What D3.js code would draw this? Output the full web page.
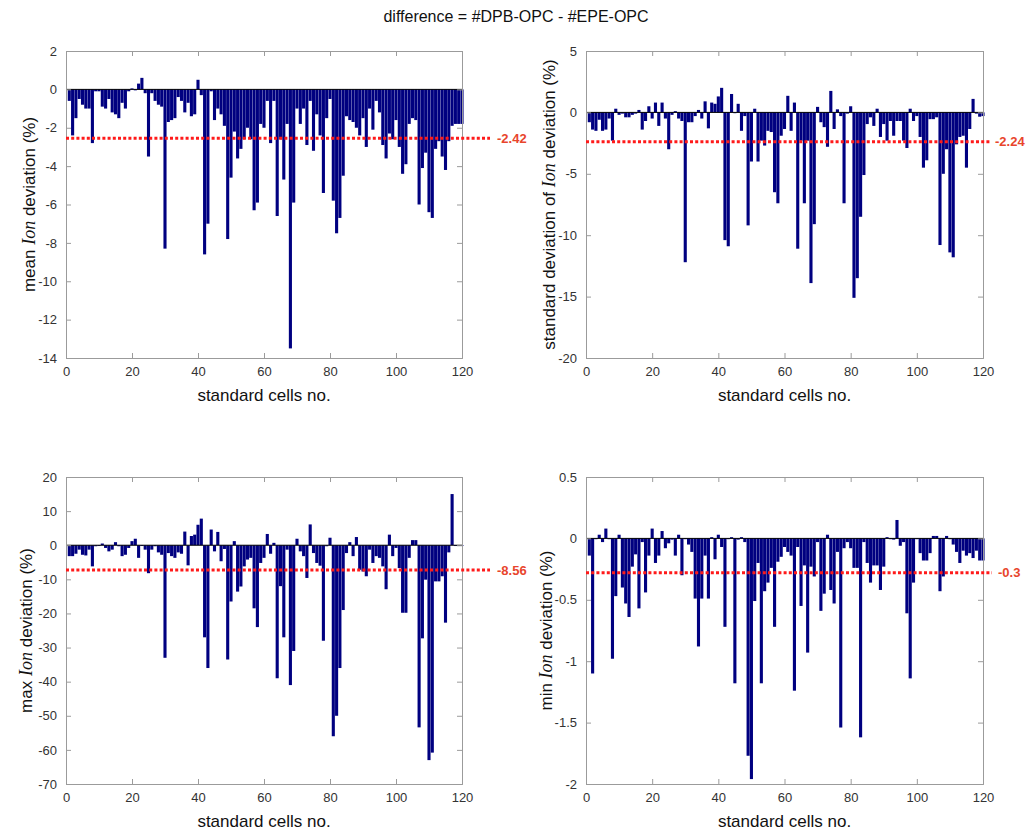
<!DOCTYPE html>
<html>
<head>
<meta charset="utf-8">
<script src="https://cdn.jsdelivr.net/npm/d3@7"></script>
<style>
  html, body { margin: 0; padding: 0; background: #fff; }
  svg { display: block; }
</style>
</head>
<body>
<svg id="chart" width="1031" height="833"></svg>
<script>
// ---------------- DATA ----------------
const chartTitle = "difference = #DPB-OPC - #EPE-OPC";
const xTicks = [0, 20, 40, 60, 80, 100, 120];

const meanValues = [
  -0.6,-2.4,-1.5,-0.5,-0.8,-1.0,-1.0,-2.8,-0.1,-0.1,
  -0.9,-1.0,-0.5,-1.2,-1.3,-1.5,-0.7,-1.0,-0.1,0.05,
  -0.05,0.3,0.6,-0.2,-3.5,-0.2,-0.6,-0.8,-0.9,-8.3,
  -1.7,-1.6,-1.5,-0.4,-0.6,-1.2,-0.7,-1.4,-1.3,0.5,
  -0.3,-8.6,-7.0,-0.1,-1.6,-1.0,-1.3,-1.9,-7.8,-4.6,
  -2.2,-3.6,-3.1,-2.6,-2.0,-2.6,-6.3,-5.9,-1.8,-2.0,
  -0.6,-2.8,-0.6,-6.6,-2.6,-4.7,-1.8,-13.5,-5.9,-1.0,
  -1.8,-1.0,-2.9,-0.6,-3.2,-1.3,-2.4,-5.4,-1.5,-0.5,
  -5.8,-7.5,-6.7,-4.5,-1.4,-1.6,-1.7,-2.0,-2.4,-1.5,
  -3.0,-1.0,-2.1,-0.6,-1.2,-2.9,-3.6,-2.3,-2.6,-1.6,
  -3.0,-4.4,-3.9,-1.8,-1.5,-1.6,-6.0,-4.1,-3.3,-6.4,
  -6.7,-3.1,-2.7,-3.5,-4.2,-2.7,-1.9,-1.8,-1.8,-1.8
];
const stdValues = [
  -0.8,-1.4,-1.5,-0.6,-1.5,-1.4,-0.5,-2.3,0.3,-0.2,
  -0.1,-0.4,-0.4,-0.2,-0.1,0.2,-1.4,-0.7,0.5,-0.5,
  0.8,-1.1,0.8,-0.5,-3.0,-0.2,0.1,-0.5,-0.7,-12.2,
  -0.8,-0.8,-0.3,0.2,-0.5,0.9,-1.3,0.8,0.7,1.3,
  2.0,-10.4,-10.9,1.5,0.0,0.7,-1.5,-0.3,-9.2,-4.0,
  0.3,-4.0,-2.3,-2.7,-1.5,-1.6,-6.5,-7.4,-1.9,-1.35,
  1.35,-1.5,0.8,-11.1,-2.3,-7.4,-2.3,-13.9,-9.1,0.45,
  -0.8,-1.2,-2.8,1.75,-1.35,0.25,-0.3,-7.4,-0.1,0.5,
  -15.1,-13.5,-8.5,-5.1,-0.95,-0.4,-1.1,0.3,-2.0,-0.95,
  -2.3,-0.7,-1.9,-0.7,-0.7,-2.3,-2.9,0.3,-0.7,-0.3,
  -2.0,-4.5,-3.9,-0.55,-0.55,-0.4,-10.8,-5.0,-3.0,-11.4,
  -11.8,-2.6,-2.0,-1.9,-4.5,-1.35,1.1,-0.1,-0.35,-0.3
];
const maxValues = [
  -3.2,-3.2,-2.5,-1.3,-2.8,-3.0,-1.3,-6.2,-0.3,0,
  0.5,-0.8,-1.8,-1.3,0.9,-0.3,-3.2,-2.8,-0.8,1.2,
  1.9,-3.7,0,-1.3,-8.2,-1.3,-0.3,-2.1,-2.8,-33,
  -2.3,-3.2,-3.7,-2.1,-2.5,4.0,-5.9,2.7,3.1,6.0,
  7.8,-27,-36,4.6,-1.8,3.9,-4.7,-1.1,-33.5,-16.5,
  1.2,-13.6,-12.1,-6.2,-4.2,-3.7,-18.5,-24,-5.2,-3.7,
  3.3,-2.5,0.7,-39,-12,-27,-1.3,-41,-31,1.9,
  -1.8,-3.2,-9.6,6.1,-2.3,-5.2,-6.0,-28,-0.3,2.2,
  -56,-50,-36,-19,-2.3,0.9,-3.2,2.4,-7.2,-7.7,
  -9.1,-1.3,-5.2,-3.2,-3.7,-6.2,-12.9,3.1,-3.2,-0.8,
  -6.7,-19.8,-19.8,-3.7,1.5,1.5,-53.4,-27.3,-10.1,-63,
  -60.8,-10.6,-10.6,-9.1,-22.7,-2.1,15,0,-0.2,-0.2
];
const minValues = [
  -0.14,-1.1,0,0.03,-0.03,0.08,0,-0.98,-0.47,0.03,
  -0.4,-0.53,-0.64,-0.23,-0.13,-0.57,-0.03,-0.44,-0.14,0.08,
  -0.2,-0.14,0.06,-0.08,-0.04,-0.01,-0.14,0.03,-0.3,0,
  -0.05,-0.11,-0.49,-0.88,-0.49,-0.14,-0.49,0.01,-0.17,0.03,
  -0.07,-0.72,0,0.01,-1.18,-0.01,0.01,-0.03,-1.77,-1.96,
  -0.51,-0.2,-1.18,-0.43,-0.36,-0.24,-0.72,-0.19,-0.15,-0.07,
  -0.11,-0.14,-1.24,-0.07,-0.55,-0.22,-0.93,-0.23,-0.31,-0.03,
  -0.59,-0.45,0.03,-0.42,-0.53,-0.11,-1.54,-0.08,-0.03,-0.08,
  -0.24,-0.24,-1.62,-0.03,-0.2,-0.36,-0.22,-0.22,-0.42,-0.23,
  0.01,0,-0.01,0.15,-0.06,-0.03,-0.61,-1.14,-0.36,0,
  -0.12,-0.18,-0.18,-0.12,0.02,0.02,-0.43,-0.31,0.02,0,
  -0.05,-0.11,-0.2,-0.1,-0.14,-0.12,-0.16,-0.1,-0.18,-0.18
];

const meanTicks = [2, 0, -2, -4, -6, -8, -10, -12, -14];
const stdTicks  = [5, 0, -5, -10, -15, -20];
const maxTicks  = [20, 10, 0, -10, -20, -30, -40, -50, -60, -70];
const minTicks  = [0.5, 0, -0.5, -1, -1.5, -2];

// level where each dotted line sits in the picture, and its printed label
const refLevels = [-2.55, -2.4, -7.3, -0.28];
const refLabels = ["-2.42", "-2.24", "-8.56", "-0.3"];
const yLabelPre  = ["mean ", "standard deviation of ", "max ", "min "];
const yLabelPost = " deviation (%)";
const xLabel = "standard cells no.";

// ---------------- LAYOUT ----------------
const panels = [
  { values: meanValues, ticks: meanTicks, left: 66,  top: 51,  w: 396, h: 307, labelX: 29,  refEnd: 490, refTextX: 497 },
  { values: stdValues,  ticks: stdTicks,  left: 586, top: 51,  w: 397, h: 307, labelX: 549, refEnd: 990, refTextX: 995 },
  { values: maxValues,  ticks: maxTicks,  left: 66,  top: 477, w: 396, h: 307, labelX: 26,  refEnd: 490, refTextX: 497 },
  { values: minValues,  ticks: minTicks,  left: 586, top: 477, w: 397, h: 307, labelX: 546, refEnd: 992, refTextX: 998 }
];

const svg = d3.select("#chart");
const FONT = "Arial, 'Liberation Sans', Helvetica, sans-serif";

svg.append("text")
  .attr("x", 516).attr("y", 22)
  .attr("text-anchor", "middle")
  .attr("font-family", FONT).attr("font-size", 16)
  .attr("fill", "#111")
  .text(chartTitle);

panels.forEach((p, k) => {
  const yMin = d3.min(p.ticks), yMax = d3.max(p.ticks);
  const x = d3.scaleLinear().domain([0, 120]).range([0, p.w]);
  const y = d3.scaleLinear().domain([yMin, yMax]).range([p.h, 0]);
  const g = svg.append("g").attr("transform", `translate(${p.left},${p.top})`);

  g.append("rect").attr("width", p.w).attr("height", p.h).attr("fill", "#fff");

  // bars
  const bw = x(1) - x(0);
  g.selectAll("rect.bar")
    .data(p.values.map((v, i) => ({ i: i + 1, v })))
    .join("rect")
    .attr("class", "bar")
    .attr("x", d => x(d.i) - bw * 0.47)
    .attr("width", bw * 0.94)
    .attr("y", d => y(Math.max(0, d.v)))
    .attr("height", d => Math.max(0.8, Math.abs(y(d.v) - y(0))))
    .attr("fill", "#000080");

  // baseline at zero
  g.append("line")
    .attr("x1", 0).attr("x2", p.w)
    .attr("y1", y(0)).attr("y2", y(0))
    .attr("stroke", "#000").attr("stroke-width", 1);

  // axes (MATLAB style: ticks inside, box)
  const axL = d3.axisLeft(y).tickValues(p.ticks).tickSize(-5).tickPadding(9).tickFormat(d => String(d));
  const axR = d3.axisRight(y).tickValues(p.ticks).tickSize(-5).tickFormat("");
  const axB = d3.axisBottom(x).tickValues(xTicks).tickSize(-5).tickPadding(9).tickFormat(d => String(d));
  const axT = d3.axisTop(x).tickValues(xTicks).tickSize(-5).tickFormat("");
  const styleAxis = sel => {
    sel.selectAll("path").attr("stroke", "#9b9b9b");
    sel.selectAll("line").attr("stroke", "#9b9b9b");
    sel.selectAll("text").attr("font-family", FONT).attr("font-size", 13).attr("fill", "#333");
  };
  g.append("g").call(axL).call(styleAxis);
  g.append("g").attr("transform", `translate(${p.w},0)`).call(axR).call(styleAxis);
  g.append("g").attr("transform", `translate(0,${p.h})`).call(axB).call(styleAxis);
  g.append("g").call(axT).call(styleAxis);

  // reference dotted line
  const ry = y(refLevels[k]);
  svg.append("line")
    .attr("x1", p.left).attr("x2", p.refEnd)
    .attr("y1", p.top + ry).attr("y2", p.top + ry)
    .attr("stroke", "#ff1a1a").attr("stroke-width", 3)
    .attr("stroke-dasharray", "3,2.2");
  svg.append("text")
    .attr("x", p.refTextX).attr("y", p.top + ry)
    .attr("dy", "0.35em")
    .attr("font-family", FONT).attr("font-size", 13).attr("font-weight", "bold")
    .attr("fill", "#e8452c")
    .text(refLabels[k]);

  // x label
  svg.append("text")
    .attr("x", p.left + p.w / 2).attr("y", p.top + p.h + 43)
    .attr("text-anchor", "middle")
    .attr("font-family", FONT).attr("font-size", 17).attr("fill", "#111")
    .text(xLabel);

  // y label with italic Ion
  const yl = svg.append("text")
    .attr("transform", `translate(${p.labelX},${p.top + p.h / 2}) rotate(-90)`)
    .attr("text-anchor", "middle")
    .attr("dy", "0.35em")
    .attr("font-family", FONT).attr("font-size", 17).attr("fill", "#111");
  yl.append("tspan").text(yLabelPre[k]);
  yl.append("tspan")
    .attr("font-family", "'Times New Roman', 'Liberation Serif', serif")
    .attr("font-style", "italic").attr("font-size", 18)
    .text("Ion");
  yl.append("tspan").text(yLabelPost);
});
</script>
</body>
</html>
